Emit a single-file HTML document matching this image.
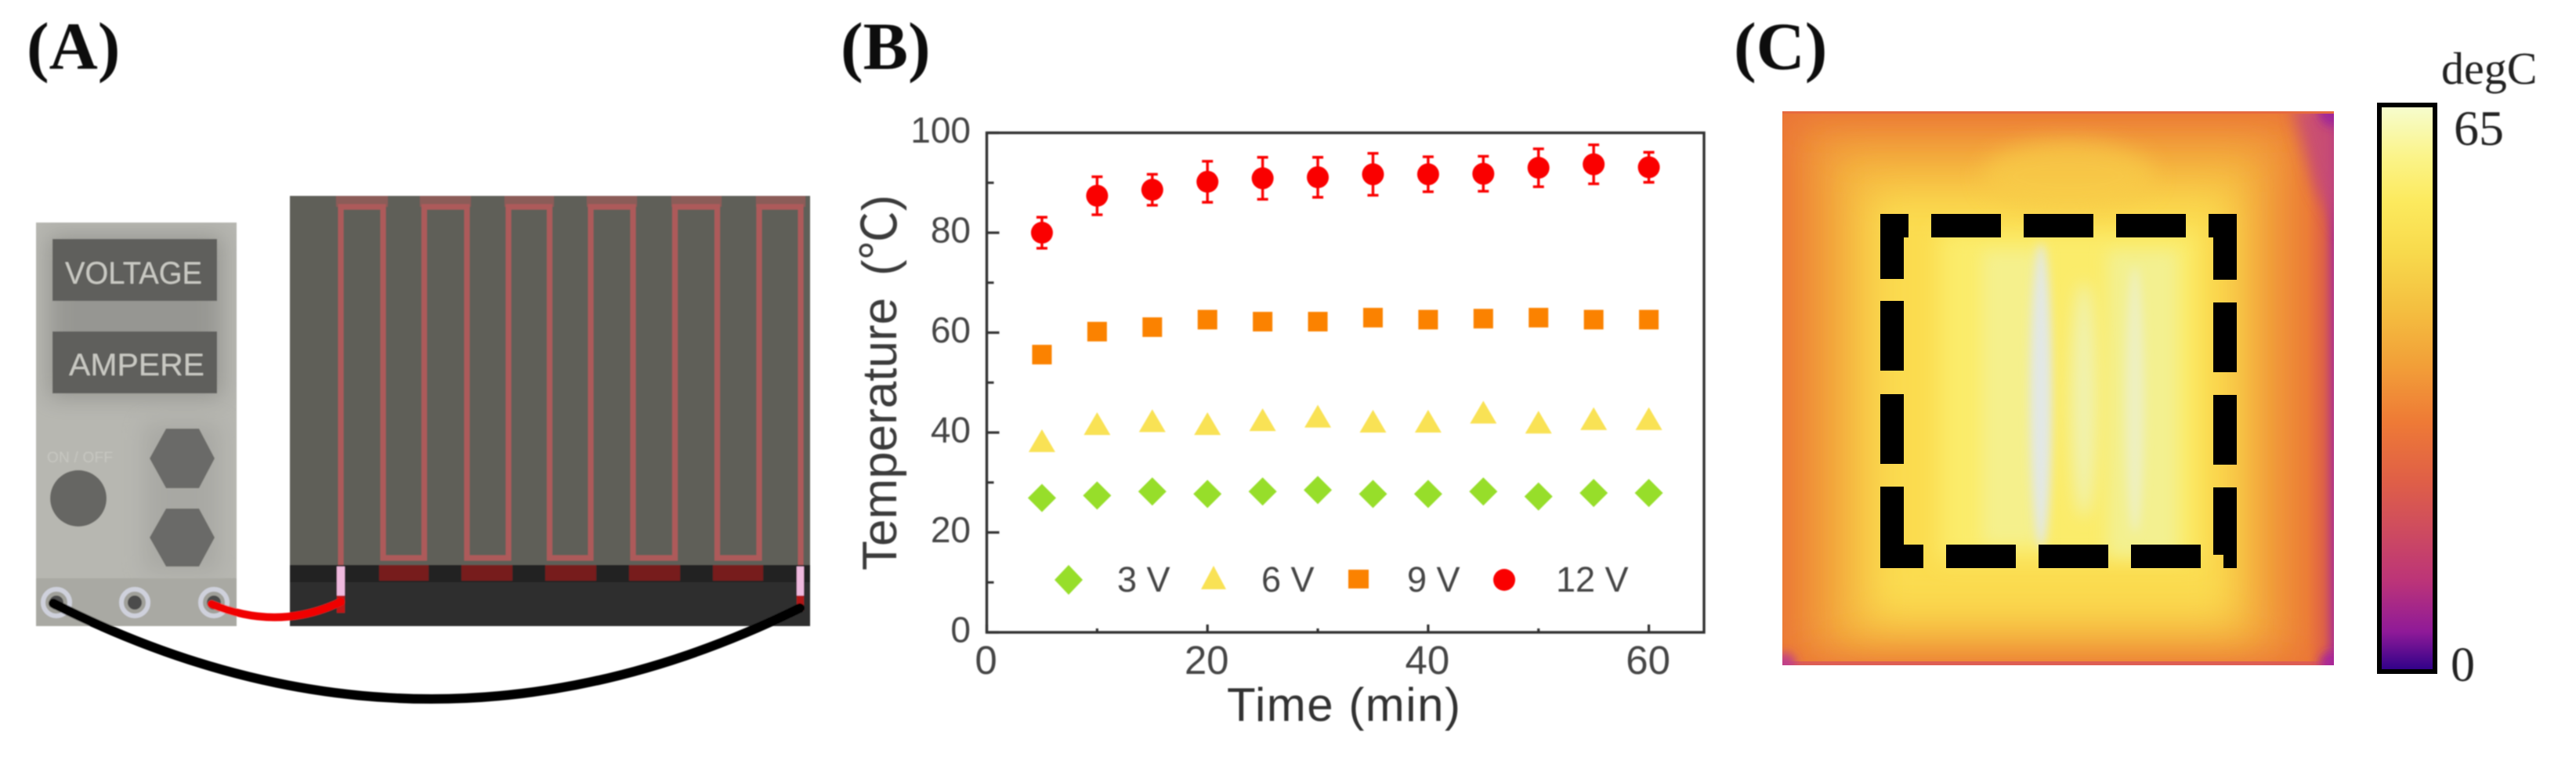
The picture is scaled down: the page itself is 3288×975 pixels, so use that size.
<!DOCTYPE html>
<html lang="en">
<head>
<meta charset="utf-8">
<title>Heater device, temperature chart and thermal image</title>
<style>
html,body{margin:0;padding:0;background:#fff;width:3288px;height:975px;overflow:hidden}
svg{display:block}
text{font-family:"Liberation Sans","Noto Sans CJK SC",sans-serif}
.serif{font-family:"Liberation Serif","Noto Serif CJK SC",serif}
</style>
</head>
<body>
<svg id="figure" xmlns="http://www.w3.org/2000/svg" width="3288" height="975" viewBox="0 0 3288 975">
<defs>
  <filter id="soft" x="-2%" y="-2%" width="104%" height="104%"><feGaussianBlur stdDeviation="0.9"/></filter>
  <filter id="b6" filterUnits="userSpaceOnUse" x="2150" y="50" width="950" height="900"><feGaussianBlur stdDeviation="6"/></filter>
  <filter id="b10" filterUnits="userSpaceOnUse" x="2150" y="50" width="950" height="900"><feGaussianBlur stdDeviation="10"/></filter>
  <filter id="b14" filterUnits="userSpaceOnUse" x="2150" y="50" width="950" height="900"><feGaussianBlur stdDeviation="14"/></filter>
  <filter id="b24" filterUnits="userSpaceOnUse" x="2150" y="50" width="950" height="900"><feGaussianBlur stdDeviation="24"/></filter>
  <filter id="halo" filterUnits="userSpaceOnUse" x="0" y="250" width="350" height="600"><feGaussianBlur stdDeviation="14"/></filter>
  <clipPath id="heatClip"><rect x="2275" y="142" width="704" height="707"/></clipPath>
  <clipPath id="bodyClip"><rect x="46" y="284" width="256" height="515"/></clipPath>
  <linearGradient id="cbar" x1="0" y1="0" x2="0" y2="1">
    <stop offset="0" stop-color="#f6fdd0"/>
    <stop offset="0.09" stop-color="#fbf48a"/>
    <stop offset="0.17" stop-color="#fcea5e"/>
    <stop offset="0.26" stop-color="#f8da4c"/>
    <stop offset="0.36" stop-color="#f4bf40"/>
    <stop offset="0.46" stop-color="#f29f38"/>
    <stop offset="0.56" stop-color="#ee7a36"/>
    <stop offset="0.66" stop-color="#e06046"/>
    <stop offset="0.74" stop-color="#d04e5c"/>
    <stop offset="0.84" stop-color="#bc3478"/>
    <stop offset="0.93" stop-color="#8f1a98"/>
    <stop offset="1" stop-color="#2c0088"/>
  </linearGradient>
  <linearGradient id="edgeRight" x1="0" y1="0" x2="1" y2="0">
    <stop offset="0" stop-color="#e0604a" stop-opacity="0"/>
    <stop offset="0.6" stop-color="#d8584e" stop-opacity="0.7"/>
    <stop offset="1" stop-color="#b03488"/>
  </linearGradient>
</defs>

<g filter="url(#soft)">
  <text class="serif" x="34" y="88" font-size="86" font-weight="700" fill="#111" style="font-family:'Liberation Serif',serif">(A)</text>
  <rect x="46" y="284" width="256" height="515" fill="#b7b7b1"/>
  <g clip-path="url(#bodyClip)">
    <rect x="62" y="300" width="222" height="208" fill="#8c8c88" opacity="0.75" filter="url(#halo)"/>
    <rect x="185" y="540" width="95" height="190" fill="#9a9a96" opacity="0.5" filter="url(#halo)"/>
  </g>
  <rect x="46" y="738" width="256" height="61" fill="#a9a9a3"/>
  <rect x="67" y="305" width="210" height="79" fill="#5f5f5c"/>
  <text x="83" y="362" font-size="40" fill="#c9c9c3" textLength="175" lengthAdjust="spacingAndGlyphs">VOLTAGE</text>
  <rect x="67" y="423" width="210" height="79" fill="#5f5f5c"/>
  <text x="88" y="479" font-size="40" fill="#c9c9c3" textLength="173" lengthAdjust="spacingAndGlyphs">AMPERE</text>
  <text x="60" y="590" font-size="19" fill="#c6c6c0" textLength="84">ON / OFF</text>
  <ellipse cx="100" cy="636" rx="36" ry="36" fill="#666663"/>
  <polygon points="191,585 212,547 254,547 274,585 254,623 212,623" fill="#6b6b67"/>
  <polygon points="191,686 212,649 254,649 274,686 254,723 212,723" fill="#6b6b67"/>
  <g><circle cx="72" cy="769" r="17" fill="#a0a09a" stroke="#cfd1dc" stroke-width="6"/><circle cx="72" cy="769" r="9" fill="#4c4c4c"/></g>
  <g><circle cx="172" cy="769" r="17" fill="#a0a09a" stroke="#cfd1dc" stroke-width="6"/><circle cx="172" cy="769" r="9" fill="#4c4c4c"/></g>
  <g><circle cx="273" cy="769" r="17" fill="#a0a09a" stroke="#cfd1dc" stroke-width="6"/><circle cx="273" cy="769" r="9" fill="#4c4c4c"/></g>

  <rect x="370" y="250" width="664" height="471" fill="#5e5e59"/>
  <rect x="370" y="721" width="664" height="22" fill="#232323"/>
  <rect x="370" y="743" width="664" height="56" fill="#2f2f2f"/>
  <g fill="#8b5b59">
    <rect x="429" y="250" width="66" height="14"/><rect x="536" y="250" width="65" height="14"/><rect x="644" y="250" width="63" height="14"/><rect x="749" y="250" width="64" height="14"/><rect x="857" y="250" width="64" height="14"/><rect x="965" y="250" width="63" height="14"/>
  </g>
  <path fill="none" stroke="#ad5a5a" stroke-width="7"
    d="M435 721V264H489V712H541.5V264H596V712H649V264H701.5V712H754V264H808V712H861.5V264H915.5V712H969V264H1022V721"/>
  <g fill="#771a1c">
    <rect x="484" y="721" width="63" height="20"/><rect x="589" y="721" width="65" height="20"/><rect x="696" y="721" width="65" height="20"/><rect x="803" y="721" width="65" height="20"/><rect x="910" y="721" width="64" height="20"/>
  </g>
  <rect x="430" y="723" width="10" height="37" fill="#efb9de"/>
  <rect x="430" y="760" width="10" height="22" fill="#c01818"/>
  <rect x="1017" y="723" width="9" height="37" fill="#efb9de"/>
  <rect x="1017" y="760" width="9" height="20" fill="#b01818"/>
  <path d="M270 771Q355 806 435 768" fill="none" stroke="#f00000" stroke-width="10" stroke-linecap="round"/>
  <path d="M68 770Q545 1011 1021 776" fill="none" stroke="#000" stroke-width="12" stroke-linecap="round"/>
</g>

<g filter="url(#soft)">
  <text x="1073" y="88" font-size="86" font-weight="700" fill="#111" style="font-family:'Liberation Serif',serif">(B)</text>
  <g id="chart"></g>
  <text transform="translate(1144,728) rotate(-90)" font-size="62" fill="#3a3a3a">Temperature<tspan dx="28">(</tspan><tspan style="font-family:'Noto Sans CJK SC',sans-serif">℃</tspan><tspan>)</tspan></text>
  <text x="1566" y="920" font-size="60" fill="#333" textLength="298">Time (min)</text>
  <g font-size="45" fill="#444">
    <g><polygon points="1364,721 1382,740 1364,759 1346,740" fill="#97de2b"/><text x="1426" y="755">3 V</text></g>
    <g><polygon points="1549,722 1565,752 1533,752" fill="#f9e254"/><text x="1610" y="755">6 V</text></g>
    <g><rect x="1721" y="727" width="26" height="24" fill="#fb8200"/><text x="1796" y="755">9 V</text></g>
    <g><circle cx="1920" cy="740" r="14" fill="#fa0000"/><text x="1986" y="755">12 V</text></g>
  </g>
</g>

<g>
  <text x="2213" y="88" font-size="86" font-weight="700" fill="#111" style="font-family:'Liberation Serif',serif" filter="url(#soft)">(C)</text>
  <g clip-path="url(#heatClip)">
    <rect x="2275" y="142" width="704" height="707" fill="#ea7436"/>
    <rect x="2292" y="158" width="640" height="680" fill="#f09438" filter="url(#b24)"/>
    <rect x="2340" y="195" width="545" height="625" fill="#f5b840" filter="url(#b24)"/>
    <rect x="2385" y="245" width="465" height="545" fill="#fbdc50" filter="url(#b24)"/>
    <rect x="2475" y="295" width="330" height="420" fill="#fbec6a" filter="url(#b14)"/>
    <rect x="2530" y="320" width="75" height="375" fill="#f5f08c" filter="url(#b10)"/>
    <rect x="2690" y="320" width="90" height="390" fill="#f3f090" filter="url(#b10)"/>
    <ellipse cx="2605" cy="505" rx="14" ry="195" fill="#e2e8e6" filter="url(#b6)"/>
    <ellipse cx="2660" cy="510" rx="16" ry="150" fill="#f0f2b0" filter="url(#b10)"/>
    <ellipse cx="2725" cy="510" rx="12" ry="170" fill="#eef0c0" filter="url(#b6)"/>
    <ellipse cx="2640" cy="225" rx="110" ry="45" fill="#f8cc48" opacity="0.7" filter="url(#b14)"/>
    <rect x="2945" y="142" width="34" height="707" fill="url(#edgeRight)"/>
    <polygon points="2925,135 2990,135 2990,300 2955,240" fill="#c44a7c" opacity="0.85" filter="url(#b10)"/>
    <circle cx="2979" cy="142" r="20" fill="#a02898" filter="url(#b6)"/>
    <rect x="2275" y="844" width="704" height="5" fill="#dc5a56" opacity="0.9"/>
    <rect x="2275" y="142" width="704" height="3" fill="#e66a40"/>
    <circle cx="2278" cy="847" r="14" fill="#c0408a" filter="url(#b6)"/>
    <circle cx="2977" cy="847" r="16" fill="#a82898" filter="url(#b6)"/>
  </g>
  <g fill="#000">
    <polygon points="2400,273 2436,273 2436,303 2430,303 2430,356 2400,356"/>
    <rect x="2465" y="273" width="89" height="30"/><rect x="2583" y="273" width="89" height="30"/><rect x="2701" y="273" width="89" height="30"/>
    <polygon points="2819,273 2855,273 2855,357 2825,357 2825,303 2819,303"/>
    <rect x="2400" y="384" width="30" height="89"/><rect x="2400" y="503" width="30" height="89"/>
    <polygon points="2400,621 2430,621 2430,695 2455,695 2455,725 2400,725"/>
    <rect x="2484" y="695" width="89" height="30"/><rect x="2602" y="695" width="89" height="30"/><rect x="2720" y="695" width="89" height="30"/>
    <rect x="2825" y="386" width="30" height="89"/><rect x="2825" y="504" width="30" height="89"/>
    <polygon points="2825,622 2855,622 2855,725 2838,725 2838,708 2825,708"/>
  </g>
  <rect x="3037" y="134" width="71" height="723" fill="url(#cbar)" stroke="#000" stroke-width="6"/>
  <text x="3116" y="107" font-size="58" fill="#222" style="font-family:'Liberation Serif',serif" filter="url(#soft)">degC</text>
  <text x="3132" y="185" font-size="64" fill="#222" style="font-family:'Liberation Serif',serif" filter="url(#soft)">65</text>
  <text x="3128" y="869" font-size="62" fill="#222" style="font-family:'Liberation Serif',serif" filter="url(#soft)">0</text>
</g>
</svg>

<script>
const timeMinutes = [5, 10, 15, 20, 25, 30, 35, 40, 45, 50, 55, 60];
const series3V = [26.9, 27.4, 28.2, 27.7, 28.2, 28.5, 27.7, 27.7, 28.2, 27.2, 27.9, 27.9];
const series6V = [38.3, 41.7, 42.3, 41.7, 42.5, 43.2, 42.2, 42.2, 44.0, 42.0, 42.7, 42.7];
const series9V = [55.6, 60.2, 61.1, 62.6, 62.2, 62.2, 63.0, 62.6, 62.8, 63.0, 62.6, 62.6];
const series12V = [80.0, 87.4, 88.6, 90.2, 90.9, 91.1, 91.7, 91.7, 91.8, 93.0, 93.7, 93.1];
const error12V = [3.1, 3.8, 3.1, 4.1, 4.2, 4.0, 4.2, 3.5, 3.5, 3.8, 3.9, 3.0];
const xMajorTicks = [0, 20, 40, 60];
const xMinorTicks = [10, 30, 50];
const yMajorTicks = [0, 20, 40, 60, 80, 100];
const yMinorTicks = [10, 30, 50, 70, 90];
const xDomainMax = 65;
const yDomainMax = 100;

const NS = 'http://www.w3.org/2000/svg';
const chart = document.getElementById('chart');
const plotLeft = 1259.5, plotRight = 2175, plotTop = 169.5, plotBottom = 807;
function xScale(v) { return plotLeft + (v / xDomainMax) * (plotRight - plotLeft); }
function yScale(v) { return plotBottom - (v / yDomainMax) * (plotBottom - plotTop); }
function make(tag, props, parent) {
  const el = document.createElementNS(NS, tag);
  for (const k in props) el.setAttribute(k, props[k]);
  parent.appendChild(el);
  return el;
}

const axisColor = '#333';
const frame = make('rect', {x: plotLeft, y: plotTop, width: plotRight - plotLeft, height: plotBottom - plotTop, fill: 'none', stroke: axisColor, 'stroke-width': 3.4}, chart);



yMajorTicks.forEach(function (v) {
  const tick = make('line', {x1: plotLeft, x2: plotLeft + 16, y1: yScale(v), y2: yScale(v), stroke: axisColor, 'stroke-width': 3.2}, chart);
  
  
  const label = make('text', {x: 1239, y: yScale(v) + 12.5, 'text-anchor': 'end', 'font-size': 46, fill: '#444'}, chart);
  
  
  label.textContent = String(v);
});
yMinorTicks.forEach(function (v) {
  const tick = make('line', {x1: plotLeft, x2: plotLeft + 9, y1: yScale(v), y2: yScale(v), stroke: axisColor, 'stroke-width': 3}, chart);
  
  
});
xMajorTicks.forEach(function (v) {
  const tick = make('line', {x1: xScale(v), x2: xScale(v), y1: plotBottom, y2: plotBottom - 10, stroke: axisColor, 'stroke-width': 3.2}, chart);
  
  
  const label = make('text', {x: xScale(v) - 1, y: 860, 'text-anchor': 'middle', 'font-size': 51, fill: '#444'}, chart);
  
  
  label.textContent = String(v);
});
xMinorTicks.forEach(function (v) {
  const tick = make('line', {x1: xScale(v), x2: xScale(v), y1: plotBottom, y2: plotBottom - 5, stroke: axisColor, 'stroke-width': 3.2}, chart);
  
  
});

timeMinutes.forEach(function (t, i) {
  const cx = xScale(t);
  const d3 = yScale(series3V[i]);
  const diamond = make('polygon', {points: [cx, d3 - 18, cx + 18, d3, cx, d3 + 18, cx - 18, d3].join(','), fill: '#97de2b'}, chart);
  
  

  const d6 = yScale(series6V[i]);
  const tri = make('polygon', {points: [cx, d6 - 15, cx + 17, d6 + 14, cx - 17, d6 + 14].join(','), fill: '#f9e254'}, chart);
  
  

  const d9 = yScale(series9V[i]);
  const sq = make('rect', {x: cx - 12.5, y: d9 - 12.5, width: 25, height: 25, fill: '#fb8200'}, chart);
  
  

  const top = yScale(series12V[i] + error12V[i]);
  const bottom = yScale(series12V[i] - error12V[i]);
  const err = make('path', {d: 'M' + (cx - 7) + ' ' + top + 'H' + (cx + 7) + 'M' + cx + ' ' + top + 'V' + bottom + 'M' + (cx - 7) + ' ' + bottom + 'H' + (cx + 7), fill: 'none', stroke: '#fa0000', 'stroke-width': 3.4}, chart);
  
  

  const dot = make('circle', {cx: cx, cy: yScale(series12V[i]), r: 14, fill: '#fa0000'}, chart);
  
  
});
</script>
</body>
</html>
